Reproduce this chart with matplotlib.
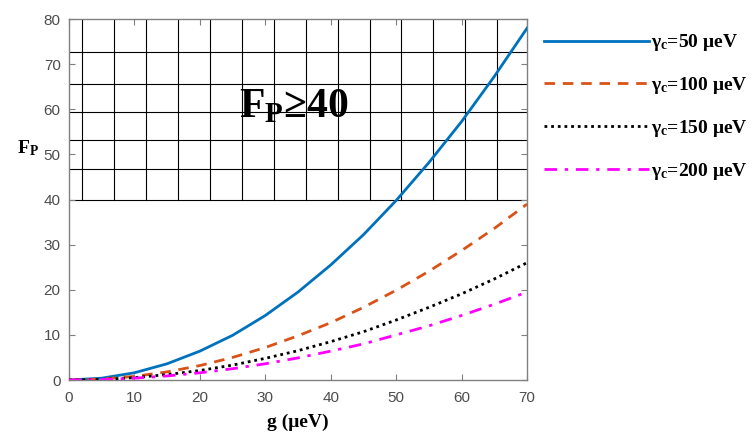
import matplotlib
matplotlib.use('Agg')
import matplotlib.pyplot as plt
import numpy as np

plt.rcParams['mathtext.fontset'] = 'custom'
plt.rcParams['mathtext.rm'] = 'Liberation Serif:bold'
plt.rcParams['mathtext.it'] = 'Liberation Serif:bold'
plt.rcParams['mathtext.bf'] = 'Liberation Serif:bold'

# values
g = [0, 5, 10, 15, 20, 25, 30, 35, 40, 45, 50, 55, 60, 65, 70]
fp_50 = [0, 0.4, 1.6, 3.6, 6.4, 9.9, 14.3, 19.5, 25.5, 32.2, 39.8, 48.2, 57.3, 67.3, 78.0]
fp_100 = [0, 0.2, 0.8, 1.8, 3.2, 5.0, 7.2, 9.8, 12.7, 16.1, 19.9, 24.1, 28.7, 33.6, 39.0]
fp_150 = [0, 0.13, 0.53, 1.2, 2.1, 3.3, 4.8, 6.5, 8.5, 10.7, 13.3, 16.1, 19.1, 22.4, 26.0]
fp_200 = [0, 0.1, 0.4, 0.9, 1.6, 2.5, 3.6, 4.9, 6.4, 8.0, 10.0, 12.0, 14.3, 16.8, 19.5]
labels = ['γ$_c$=50 μeV', 'γ$_c$=100 μeV', 'γ$_c$=150 μeV', 'γ$_c$=200 μeV']

serif = {'family': 'Liberation Serif', 'weight': 'bold'}

fig = plt.figure(figsize=(7.53, 4.33), dpi=100)
ax = fig.add_axes([0.0916, 0.1224, 0.6084, 0.8336])

# hand-drawn hatch over the F_P >= 40 region
for y in [40, 46.7, 53.2, 59.3, 65.6, 72.8]:
    ax.plot([0, 70], [y, y], color='black', lw=0.8, zorder=1)
for k in range(14):
    x = 2 + 4.88 * k
    ax.plot([x, x], [40, 80], color='black', lw=0.8, zorder=1)

ax.plot(g, fp_50, color='#0072BD', lw=2, label=labels[0], zorder=3)
ax.plot(g, fp_100, color='#D95319', lw=2, dashes=(3.8, 2.8), label=labels[1], zorder=3)
ax.plot(g, fp_150, color='black', lw=2, dashes=(1, 1.4), label=labels[2], zorder=3)
ax.plot(g, fp_200, color='#FF00FF', lw=2, dashes=(4.5, 2.8, 1.2, 2.8), label=labels[3], zorder=3)

ax.set_xlim(0, 70)
ax.set_ylim(0, 80)
ax.set_xticks(range(0, 71, 10))
ax.set_yticks(range(0, 81, 10))
ax.tick_params(direction='in', top=True, right=True, length=4, color='#808080',
               labelcolor='#4d4d4d', labelsize=11, width=0.8)
ax.tick_params(axis='x', pad=8)
ax.tick_params(axis='y', pad=6)
for lab in ax.get_xticklabels() + ax.get_yticklabels():
    lab.set_family('Liberation Sans')
for s in ax.spines.values():
    s.set_color('#808080')
    s.set_linewidth(1)

ax.text(26, 58.3, 'F$_\\mathrm{P}$≥40', fontsize=30, fontdict=serif, zorder=4)
ax.set_xlabel('g (μeV)', fontdict=serif, fontsize=14, va='center')
ax.xaxis.set_label_coords(0.5, -0.116)
ax.set_ylabel('F$_\\mathrm{P}$', fontdict=serif, fontsize=14, rotation=0, va='center', ha='center')
ax.yaxis.set_label_coords(-0.09, 0.643)

fig.legend(loc='upper left', bbox_to_anchor=(0.722, 0.925), frameon=False,
           prop={'family': 'Liberation Serif', 'weight': 'bold', 'size': 14},
           handlelength=5.4, labelspacing=1.12, handletextpad=0.1,
           borderpad=0, borderaxespad=0)

fig.savefig('out.png', dpi=100)
